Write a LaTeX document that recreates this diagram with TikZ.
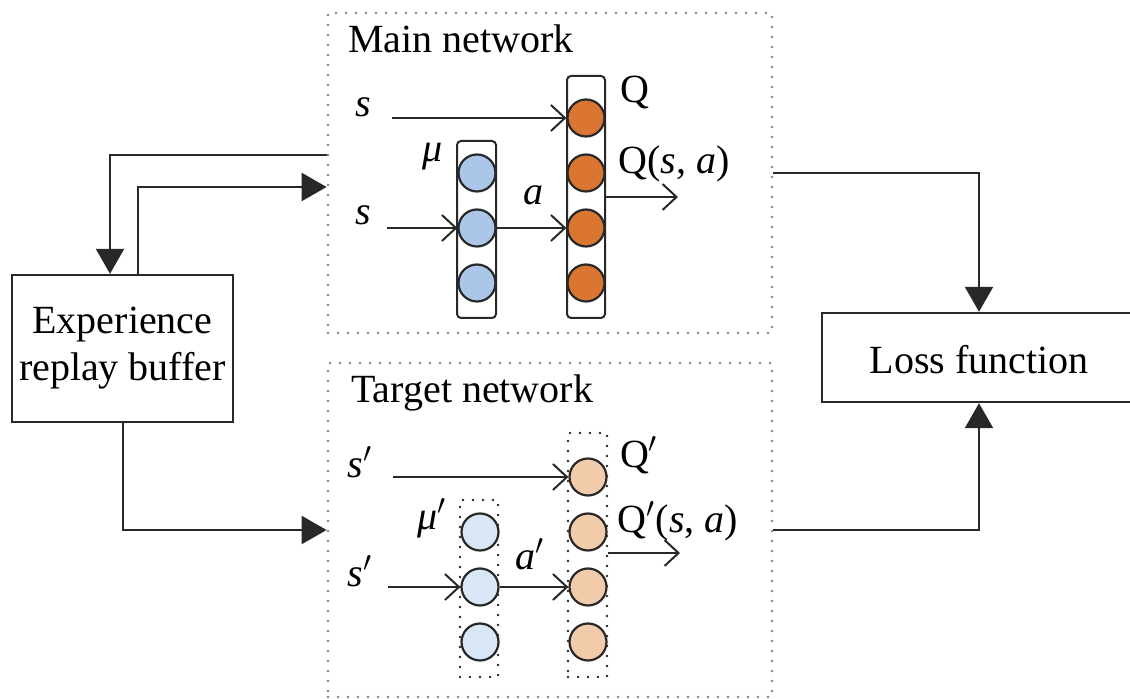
\documentclass[tikz,border=0pt]{standalone}
\usepackage{fontspec}
\setmainfont{Liberation Serif}
\usetikzlibrary{arrows.meta,fit}

\definecolor{qorange}{RGB}{218,118,50}
\definecolor{qpeach}{RGB}{242,203,170}
\definecolor{mublue}{RGB}{170,199,234}
\definecolor{mupale}{RGB}{216,230,245}
\definecolor{edge}{RGB}{40,40,40}

\begin{document}
\begin{tikzpicture}[x=0.5pt,y=-0.5pt,font=\fontsize{20}{23.5}\selectfont,
    line width=1.2pt,draw=edge,inner sep=0pt,
    block/.style={draw,inner sep=0pt},
    netbox/.style={draw=gray,line width=1.4pt,line cap=round,
      dash pattern=on 0pt off 5pt,inner sep=0pt},
    column/.style={draw,rounded corners=2pt,inner sep=0pt,line width=1pt},
    dotcolumn/.style={draw=edge,line width=1.3pt,line cap=round,
      dash pattern=on 0pt off 5pt,inner sep=0pt},
    neuron/.style={circle,draw,line width=1.1pt,minimum size=18.5pt,inner sep=0pt},
    feed/.style={-{Triangle[length=12.5pt,width=14pt]}},
    signal/.style={-{Straight Barb[length=7pt,width=13pt]},line width=1pt}]
  \useasboundingbox (0,0) rectangle (1130,699);

  % outer blocks
  \node[netbox,fit={(328,13) (772,333)}] (main) {};
  \node[netbox,fit={(328,363) (772,697)}] (target) {};
  \node[block,fit={(12,275) (233,422)}] (buffer) {};
  \node[align=center] (buftxt) at (buffer.center) {Experience\\replay buffer};
  \node[block,fit={(822,313) (1136,402)}] (loss) {};
  \node (losstxt) at ([yshift=-1pt]loss.center) {Loss function};
  \node[anchor=base west] (mainlbl) at (347,53) {Main network};
  \node[anchor=base west] (targetlbl) at (350,403) {Target network};

  % main network
  \node[column,fit={(567,76) (605,318)}] (qcol) {};
  \node[column,fit={(457,141) (496,318)}] (mucol) {};
  \foreach \i/\y in {1/118,2/173,3/228,4/283}
    \node[neuron,fill=qorange] (q\i) at (586,\y) {};
  \foreach \i/\y in {1/173,2/228,3/283}
    \node[neuron,fill=mublue] (m\i) at (477,\y) {};
  \coordinate (sin1) at (392,118);
  \coordinate (sin2) at (387,228);
  \coordinate (qout) at (678,197);
  \node[anchor=base] (s1) at (363,117) {\textit{s}};
  \node[anchor=base] (s2) at (363,225) {\textit{s}};
  \node[anchor=base] (mu) at (433,162) {\textit{μ}};
  \node[anchor=base] (act) at (533,205) {\textit{a}};
  \node[anchor=base] (qlbl) at (635,103) {Q};
  \node[anchor=base] (qsa) at (674,174) {Q(\textit{s}, \textit{a})};
  \draw[signal] (sin1) -- (q1);
  \draw[signal] (sin2) -- (m2);
  \draw[signal] (m2) -- (q3);
  \draw[signal] (qcol.east |- qout) -- (qout);

  % target network
  \node[dotcolumn,fit={(568,433) (607,677)}] (tqcol) {};
  \node[dotcolumn,fit={(460,500) (498,677)}] (tmucol) {};
  \foreach \i/\y in {1/477,2/532,3/587,4/642}
    \node[neuron,fill=qpeach] (tq\i) at (588,\y) {};
  \foreach \i/\y in {1/532,2/587,3/642}
    \node[neuron,fill=mupale] (tm\i) at (480,\y) {};
  \coordinate (tsin1) at (393,477);
  \coordinate (tsin2) at (388,587);
  \coordinate (tqout) at (680,553);
  \node[anchor=base] (ts1) at (360,478) {\textit{s}$'$};
  \node[anchor=base] (ts2) at (360,587) {\textit{s}$'$};
  \node[anchor=base] (tmu) at (432,530) {\textit{μ}$'$};
  \node[anchor=base] (tact) at (530,570) {\textit{a}$'$};
  \node[anchor=base] (tqlbl) at (639,468) {Q$'$};
  \node[anchor=base] (tqsa) at (678,533) {Q$'$(\textit{s}, \textit{a})};
  \draw[signal] (tsin1) -- (tq1);
  \draw[signal] (tsin2) -- (tm2);
  \draw[signal] (tm2) -- (tq3);
  \draw[signal] (tqcol.east |- tqout) -- (tqout);

  % data flow between blocks
  \draw[feed] (main.west |- 0,155) -| (buffer.north -| 110,0);
  \draw[feed] (buffer.north -| 138,0) |- (main.west |- 0,187);
  \draw[feed] (buffer.south -| 123,0) |- (target.west |- 0,530);
  \draw[feed] (main.east |- 0,173) -| (loss.north);
  \draw[feed] (target.east |- 0,530) -| (loss.south);
\end{tikzpicture}
\end{document}
